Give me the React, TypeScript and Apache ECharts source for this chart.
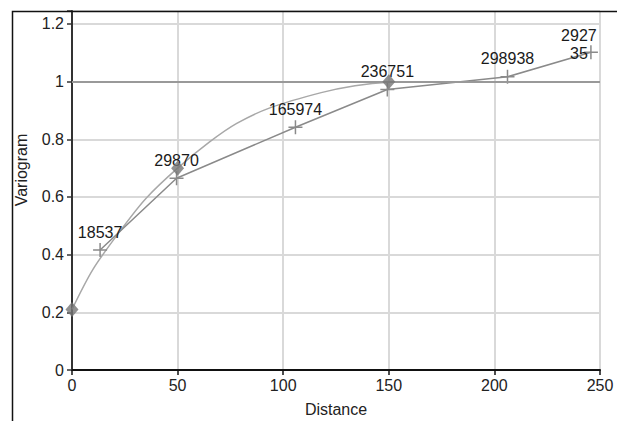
import React, { useEffect, useRef } from 'react';
import * as echarts from 'echarts';

// Experimental variogram (crosses) with pair-count labels
const crossX = [13.3, 49.5, 105.8, 149.3, 206.2, 245.7];
const crossY = [0.416, 0.665, 0.842, 0.973, 1.017, 1.102];
const crossLabels = ['18537', '29870', '165974', '236751', '298938', '2927\n35'];

// Fitted model curve
const modelX = [0, 10, 23.6, 35, 50, 65, 78, 94, 118, 134, 150, 170, 250];
const modelY = [0.21, 0.35, 0.49, 0.595, 0.7, 0.79, 0.855, 0.91, 0.962, 0.986, 0.998, 1.0, 1.0];

// Model nodes (diamonds)
const nodeX = [0, 50, 150];
const nodeY = [0.21, 0.7, 1.0];

const sillValue = 1;
const xAxisTitle = 'Distance';
const yAxisTitle = 'Variogram';

const FONT = 'Liberation Sans, Arial, sans-serif';
const PLUS = 'path://M0,6.25H14V7.75H0Z M6.25,0H7.75V14H6.25Z';

export default function App() {
  const ref = useRef<HTMLDivElement>(null);
  useEffect(() => {
    if (!ref.current) return;
    const chart = echarts.init(ref.current, undefined, { renderer: 'svg' });
    const lastIdx = crossX.length - 1;
    chart.setOption({
      animation: false,
      backgroundColor: '#fff',
      textStyle: { fontFamily: FONT },
      grid: { left: 72, right: 17, top: 11, bottom: 51, containLabel: false, outerBoundsMode: 'none' },
      xAxis: {
        type: 'value',
        min: 0,
        max: 250,
        interval: 50,
        name: xAxisTitle,
        nameLocation: 'middle',
        nameGap: 31,
        nameTextStyle: { fontSize: 16, color: '#222', fontFamily: FONT },
        axisLine: { show: true, onZero: false, lineStyle: { color: '#111', width: 2 } },
        axisTick: { show: true, length: 5, lineStyle: { color: '#111', width: 1.5 } },
        axisLabel: { fontSize: 16, color: '#222', margin: 7, fontFamily: FONT },
        splitLine: { show: true, lineStyle: { color: '#d9d9d9', width: 2 } },
      },
      yAxis: {
        type: 'value',
        min: 0,
        max: 1.245,
        interval: 0.2,
        axisLine: { show: true, onZero: false, lineStyle: { color: '#333', width: 2 } },
        axisTick: { show: true, length: 5, lineStyle: { color: '#333', width: 1.5 } },
        axisLabel: {
          fontSize: 16,
          color: '#222',
          margin: 8,
          fontFamily: FONT,
          formatter: (v: number) => {
            const r = Math.round(v * 10) / 10;
            if (Math.abs(v - r) > 1e-6 || v > 1.21) return '';
            return String(r);
          },
        },
        splitLine: { show: true, lineStyle: { color: '#d9d9d9', width: 2 } },
      },
      series: [
        {
          type: 'line',
          name: 'model',
          data: modelX.map((x, i) => [x, modelY[i]]),
          smooth: 0.3,
          showSymbol: false,
          symbol: 'none',
          lineStyle: { color: '#a8a8a8', width: 1.5 },
          z: 3,
          markLine: {
            silent: true,
            symbol: 'none',
            label: { show: false },
            lineStyle: { color: '#999', width: 2, type: 'solid' },
            data: [{ yAxis: sillValue }],
          },
        },
        {
          type: 'line',
          name: 'experimental',
          data: crossX.map((x, i) => {
            const item: any = { value: [x, crossY[i]] };
            if (i === lastIdx) {
              item.label = { position: 'inside', offset: [-12, -8], lineHeight: 18 };
            }
            return item;
          }),
          symbol: PLUS,
          symbolSize: 14,
          showAllSymbol: true,
          itemStyle: { color: '#8a8a8a' },
          lineStyle: { color: '#8a8a8a', width: 1.5 },
          label: {
            show: true,
            position: 'top',
            distance: 3,
            fontSize: 16,
            color: '#1a1a1a',
            fontFamily: FONT,
            formatter: (p: any) => crossLabels[p.dataIndex],
          },
          z: 4,
        },
        {
          type: 'scatter',
          name: 'nodes',
          data: nodeX.map((x, i) => [x, nodeY[i]]),
          symbol: 'diamond',
          symbolSize: [13, 15],
          itemStyle: { color: '#767676' },
          z: 5,
        },
      ],
      graphic: [
        {
          type: 'polyline',
          shape: { points: [[12.5, 421], [12.5, 11.5], [617, 11.5]] },
          style: { stroke: '#111', lineWidth: 1.5, fill: null },
          z: 10,
        },
        {
          type: 'text',
          x: 21,
          y: 170,
          rotation: Math.PI / 2,
          style: {
            text: yAxisTitle,
            fontSize: 16,
            fontFamily: FONT,
            fill: '#222',
            align: 'center',
            verticalAlign: 'middle',
          },
        },
      ],
    });
    return () => chart.dispose();
  }, []);
  return (
    <div
      ref={ref}
      style={{ position: 'absolute', left: 0, top: 0, width: 617, height: 421 }}
    />
  );
}
